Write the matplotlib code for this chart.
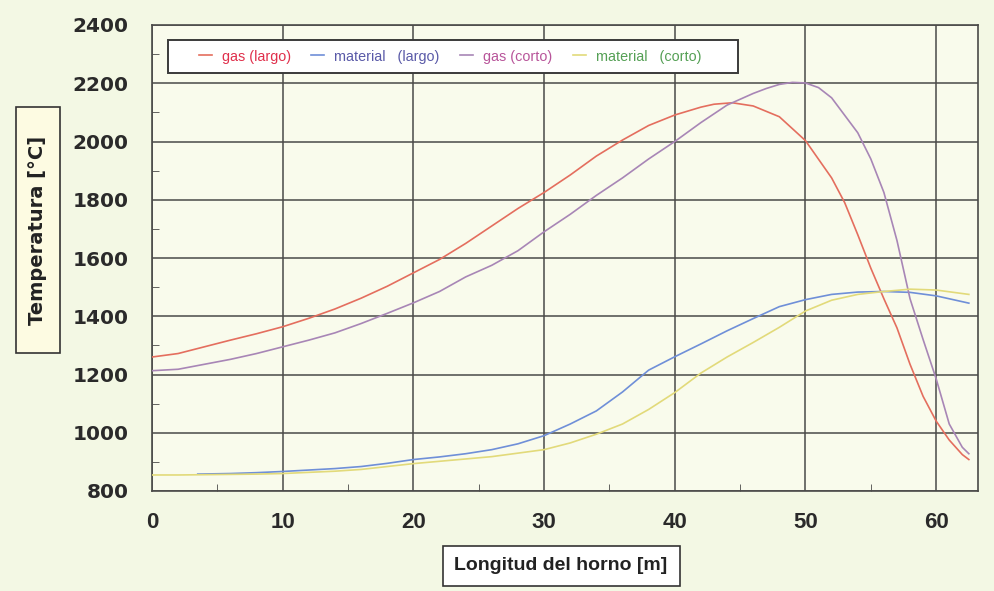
import matplotlib
matplotlib.use("Agg")
import matplotlib.pyplot as plt
from matplotlib.ticker import MultipleLocator
from matplotlib.patches import Rectangle

# ---- data ----
x_gas_largo = [0, 2, 4, 6, 8, 10, 12, 14, 16, 18, 20, 22, 24, 26, 28, 30, 32, 34, 36, 38,
               40, 42, 43, 44.4, 46, 48, 50, 52, 53, 54, 55, 56, 57, 58, 59, 60, 61, 62, 62.5]
t_gas_largo = [1260, 1272, 1295, 1318, 1340, 1364, 1393, 1425, 1462, 1503, 1549, 1595, 1650,
               1710, 1770, 1825, 1885, 1950, 2005, 2055, 2091, 2118, 2128, 2133, 2122, 2085,
               2003, 1875, 1790, 1680, 1565, 1460, 1360, 1235, 1125, 1040, 975, 925, 908]

x_gas_corto = [0, 2, 4, 6, 8, 10, 12, 14, 16, 18, 20, 22, 24, 26, 28, 30, 32, 34, 36, 38,
               40, 42, 44, 46, 47, 48, 49, 50, 51, 52, 53, 54, 55, 56, 57, 58, 59, 60, 61,
               62, 62.5]
t_gas_corto = [1213, 1218, 1235, 1252, 1272, 1295, 1318, 1343, 1375, 1410, 1446, 1485, 1535,
               1575, 1625, 1690, 1750, 1815, 1875, 1940, 2000, 2065, 2125, 2165, 2182, 2196,
               2203, 2201, 2185, 2150, 2090, 2030, 1940, 1825, 1660, 1460, 1320, 1185, 1030,
               950, 928]

x_mat_largo = [3.5, 6, 8, 10, 12, 14, 16, 18, 20, 22, 24, 26, 28, 30, 32, 34, 36, 38, 40,
               42, 44, 46, 48, 50, 52, 54, 56, 58, 60, 62.5]
t_mat_largo = [858, 860, 863, 867, 872, 877, 884, 895, 908, 917, 928, 942, 962, 990, 1030,
               1075, 1140, 1215, 1261, 1305, 1350, 1392, 1433, 1457, 1475, 1483, 1485, 1482,
               1470, 1445]

x_mat_corto = [0, 2, 4, 6, 8, 10, 12, 14, 16, 18, 20, 22, 24, 26, 28, 30, 32, 34, 36, 38,
               40, 42, 44, 46, 48, 50, 52, 54, 56, 58, 60, 62.5]
t_mat_corto = [855, 855, 856, 857, 858, 860, 864, 868, 874, 884, 894, 902, 910, 918, 930,
               942, 965, 995, 1030, 1080, 1138, 1205, 1260, 1310, 1362, 1418, 1455, 1475,
               1485, 1493, 1490, 1475]

labels = ["gas (largo)", "material   (largo)", "gas (corto)", "material   (corto)"]
line_colors = ["#e46e5e", "#6f8fd8", "#a886b6", "#e2da7a"]
text_colors = ["#e0304c", "#5a5aa8", "#b8559a", "#55a055"]

xticks = [0, 10, 20, 30, 40, 50, 60]
yticks = [800, 1000, 1200, 1400, 1600, 1800, 2000, 2200, 2400]

W, H = 994, 591

# ---- figure ----
fig = plt.figure(figsize=(W / 100, H / 100), dpi=100, facecolor="#f3f8e4")
ax = fig.add_axes([152 / W, 1 - 491 / H, (978 - 152) / W, (491 - 25) / H])
ax.set_facecolor("#f9fbec")

series = [(x_gas_largo, t_gas_largo), (x_mat_largo, t_mat_largo),
          (x_gas_corto, t_gas_corto), (x_mat_corto, t_mat_corto)]
handles = []
for (xs, ys), c, lab in zip(series, line_colors, labels):
    h, = ax.plot(xs, ys, color=c, lw=1.2, label=lab, zorder=3,
                 solid_joinstyle="round")
    handles.append(h)

ax.set_xlim(0, 63.2)
ax.set_ylim(800, 2400)
ax.set_xticks(xticks)
ax.set_yticks(yticks)
ax.xaxis.set_minor_locator(MultipleLocator(5))
ax.yaxis.set_minor_locator(MultipleLocator(100))
ax.grid(True, which="major", color="#4a4a48", lw=1.1, zorder=1)
ax.tick_params(which="major", length=0)
ax.tick_params(axis="y", pad=17)
ax.tick_params(axis="x", pad=15)
ax.tick_params(which="minor", direction="in", length=5, color="#4a4a48",
               top=False, right=False)
for s in ax.spines.values():
    s.set_color("#4a4a48")
    s.set_linewidth(1.2)

for t in ax.get_yticklabels():
    t.set_fontfamily("DejaVu Sans")
    t.set_fontweight("bold")
    t.set_fontsize(14.5)
    t.set_color("#2a2a2a")
for t in ax.get_xticklabels():
    t.set_fontfamily("Liberation Sans")
    t.set_fontweight("bold")
    t.set_fontsize(16)
    t.set_color("#2a2a2a")

# legend: frame drawn separately, content centred in it
x0, x1 = (168 - 152) / 826, (738 - 152) / 826
y0, y1 = (491 - 73) / 466, (491 - 40) / 466
ax.add_patch(Rectangle((x0, y0), x1 - x0, y1 - y0, transform=ax.transAxes,
                       fc="white", ec="#3a3a3a", lw=1.4, zorder=5))
leg = ax.legend(handles=handles, loc="center", ncol=4,
                bbox_to_anchor=((450 - 152) / 826, (y0 + y1) / 2), frameon=False,
                handlelength=0.9, handletextpad=0.7, columnspacing=1.4,
                borderpad=0, borderaxespad=0,
                prop={"family": "Liberation Sans", "size": 10.4})
leg.set_zorder(6)
for txt, c in zip(leg.get_texts(), text_colors):
    txt.set_color(c)

# axis titles in boxes
fig.patches.append(Rectangle((16 / W, 1 - 353 / H), 44 / W, 246 / H,
                             transform=fig.transFigure, fc="#fdfbe2",
                             ec="#333333", lw=1.2))
fig.text(38 / W, 1 - 230 / H, "Temperatura [°C]", rotation=90, ha="center",
         va="center", fontsize=14, fontweight="bold", family="DejaVu Sans",
         color="#222222")
fig.patches.append(Rectangle((443 / W, 1 - 586 / H), 237 / W, 40 / H,
                             transform=fig.transFigure, fc="white",
                             ec="#333333", lw=1.2))
fig.text(561 / W, 1 - 566 / H, "Longitud del horno [m]", ha="center", va="center",
         fontsize=14, fontweight="bold", family="Liberation Sans", color="#222222")

fig.savefig("out.png", dpi=100, facecolor=fig.get_facecolor())
